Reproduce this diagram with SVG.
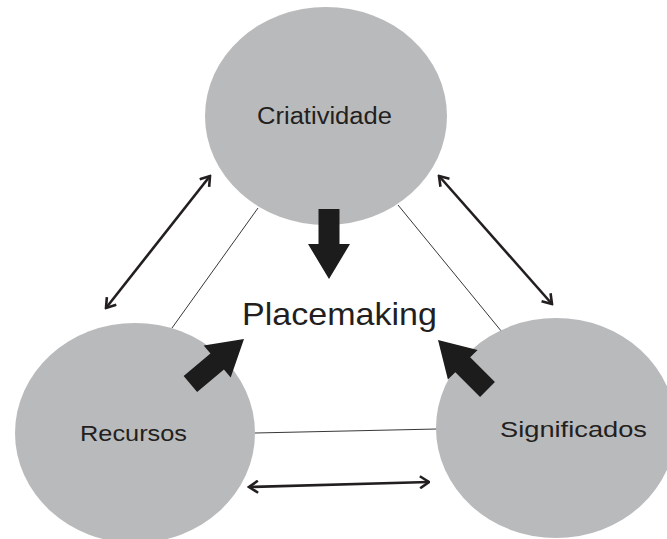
<svg xmlns="http://www.w3.org/2000/svg" width="667" height="539" viewBox="0 0 667 539">
<style>
.node{fill:#b9babc}
.lbl{font-family:"Liberation Sans",Arial,sans-serif;fill:#231f20}
.thin{stroke:#231f20;stroke-width:0.9;fill:none}
.dbl{stroke:#231f20;stroke-width:2.6;fill:none;marker-start:url(#chev);marker-end:url(#chev)}
.big{fill:#1c1c1c}
</style>
<defs>
<marker id="chev" viewBox="0 0 12 14" refX="10.5" refY="7" markerWidth="12" markerHeight="14" markerUnits="userSpaceOnUse" orient="auto-start-reverse">
<path d="M1.5,1 L10.5,7 L1.5,13" fill="none" stroke="#231f20" stroke-width="2.6" stroke-linejoin="miter"/>
</marker>
<polygon id="bigArrow" points="-70,-10.5 -35,-10.5 -35,-21 0,0 -35,21 -35,10.5 -70,10.5"/>
</defs>
<rect width="667" height="539" fill="#fff"/>
<g id="connectors">
<line class="thin" x1="258" y1="208" x2="172" y2="328"/>
<line class="thin" x1="398" y1="205" x2="502" y2="332"/>
<line class="thin" x1="255" y1="433" x2="437" y2="429"/>
<line class="dbl" x1="106" y1="308" x2="210" y2="176"/>
<line class="dbl" x1="439" y1="176" x2="552" y2="304"/>
<line class="dbl" x1="249" y1="487" x2="429" y2="482"/>
</g>
<g id="criatividade">
<ellipse class="node" cx="326" cy="116" rx="121" ry="109"/>
<text class="lbl" x="257" y="124" font-size="23" textLength="135" lengthAdjust="spacingAndGlyphs">Criatividade</text>
</g>
<g id="recursos">
<ellipse class="node" cx="135" cy="433" rx="120" ry="110"/>
<text class="lbl" x="80" y="441" font-size="22.5" textLength="107" lengthAdjust="spacingAndGlyphs">Recursos</text>
</g>
<g id="significados">
<ellipse class="node" cx="556" cy="428" rx="120" ry="110"/>
<text class="lbl" x="500" y="437" font-size="22.5" textLength="147" lengthAdjust="spacingAndGlyphs">Significados</text>
</g>
<g id="placemaking">
<text class="lbl" x="242" y="325" font-size="30.5" textLength="195" lengthAdjust="spacingAndGlyphs">Placemaking</text>
</g>
<g id="influence-arrows">
<use href="#bigArrow" class="big" transform="translate(329,279) rotate(90)"/>
<use href="#bigArrow" class="big" transform="translate(244,339) rotate(-40)"/>
<use href="#bigArrow" class="big" transform="translate(438,340) rotate(-135)"/>
</g>
</svg>
